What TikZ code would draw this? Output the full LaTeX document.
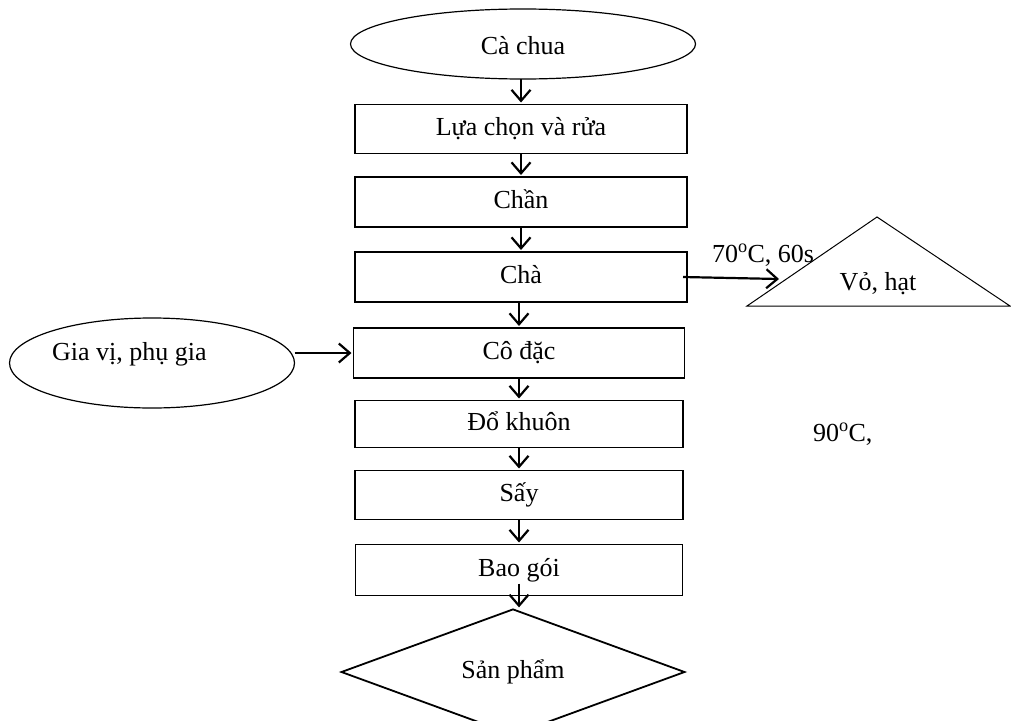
\documentclass[tikz,border=0pt]{standalone}
\usepackage{fontspec}
\setmainfont{Liberation Serif}
\usetikzlibrary{shapes.geometric,arrows.meta,calc}
\begin{document}
\begin{tikzpicture}[x=1pt,y=-1pt,
  every node/.style={font=\fontsize{26}{30}\selectfont, inner sep=0pt, outer sep=0pt},
  stepbox/.style={draw, line width=1.5pt, rectangle, minimum width=332pt, minimum height=49pt, text height=17pt, text depth=5pt},
  oval/.style={draw, line width=1.2pt, ellipse},
  flow/.style={line width=2.2pt, -{Straight Barb[length=11pt,width=19pt,line width=2.2pt]}, shorten >=2pt}
]
\useasboundingbox (0,0) rectangle (1011,720);

% start ellipse
\node[oval, minimum width=345pt, minimum height=70pt] (cc) at (523,44) {};
\node[anchor=base] (cct) at (523,54) {Cà chua};

% process boxes
\node[stepbox] (lc)  at (521,129) {Lựa chọn và rửa};
\node[stepbox, minimum height=50pt] (chan) at (521,202) {Chần};
\node[stepbox, minimum height=50pt] (cha)  at (521,277) {Chà};
\node[stepbox, minimum width=331pt, minimum height=50pt] (co) at (519,353) {Cô đặc};
\node[stepbox, minimum width=328pt, minimum height=47pt] (do) at (519,424) {Đổ khuôn};
\node[stepbox, minimum width=328pt, minimum height=49pt] (say) at (519,495) {Sấy};
\node[stepbox, minimum width=327pt, minimum height=51pt] (bg) at (519,570) {Bao gói};

% final diamond
\node[draw, line width=1.8pt, diamond, minimum width=343pt, minimum height=94pt, text height=17pt, text depth=5pt] (sp) at (513,672) {Sản phẩm};

% side ellipse
\node[oval, minimum width=285pt, minimum height=90pt] (gv) at (152,363) {};
\node[anchor=base west] (gvt) at (52,360) {Gia vị, phụ gia};

% triangle
\draw[line width=1pt] (877,217) -- (1010,306) -- (747,306) -- cycle;
\node[anchor=base] (vh) at (878,290) {Vỏ, hạt};
\coordinate (vhtip) at (779,279);

% labels
\node[anchor=base west] (t70) at (712,262) {70\textsuperscript{o}C, 60s};
\node[anchor=base west] (t90) at (813,441) {90\textsuperscript{o}C,};

% connectors
\draw[flow] (cc.south -| lc.north) -- (lc.north);
\draw[flow] (lc) -- (chan);
\draw[flow] (chan) -- (cha);
\draw[flow] (cha.south -| co.north) -- (co.north);
\draw[flow] (co) -- (do);
\draw[flow] (do) -- (say);
\draw[flow] (say) -- (bg);
\draw[flow] ($(bg.south)+(0,-12)$) -- (bg.south |- sp.north);
\draw[flow, shorten >=0pt] ($(cha.east)+(-4,0)$) -- (vhtip);
\draw[flow] (gv.east |- co.west) -- (co.west);
\end{tikzpicture}
\end{document}
